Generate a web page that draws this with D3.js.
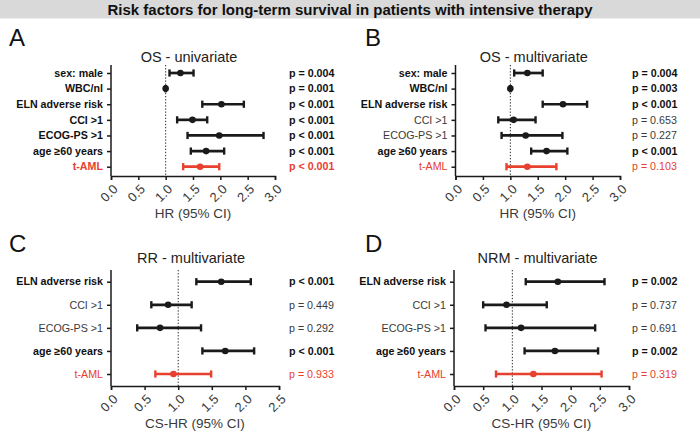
<!DOCTYPE html>
<html>
<head>
<meta charset="utf-8">
<script src="https://cdn.jsdelivr.net/npm/d3@7/dist/d3.min.js"></script>
<style>
  html, body { margin: 0; padding: 0; background: #fff; }
  svg { display: block; font-family: "Liberation Sans", Arial, Helvetica, sans-serif; }
</style>
</head>
<body>
<svg id="chart" width="700" height="434"></svg>
<script>
// ---------- DATA ----------
const chartTitle = "Risk factors for long-term survival in patients with intensive therapy";

const osCategories = ["sex: male", "WBC/nl", "ELN adverse risk", "CCI >1", "ECOG-PS >1", "age \u226560 years", "t-AML"];
const osUniHR   = [1.27, 1.00, 2.02, 1.49, 1.98, 1.74, 1.63];
const osUniLow  = [1.07, 0.995, 1.67, 1.21, 1.40, 1.46, 1.32];
const osUniHigh = [1.51, 1.005, 2.43, 1.76, 2.79, 2.07, 1.98];
const osUniP    = ["p = 0.004", "p = 0.001", "p < 0.001", "p < 0.001", "p < 0.001", "p < 0.001", "p < 0.001"];

const osMultiHR   = [1.31, 1.00, 1.96, 1.06, 1.28, 1.66, 1.31];
const osMultiLow  = [1.07, 0.995, 1.59, 0.78, 0.84, 1.38, 0.93];
const osMultiHigh = [1.59, 1.005, 2.40, 1.46, 1.95, 2.04, 1.84];
const osMultiP    = ["p = 0.004", "p = 0.003", "p < 0.001", "p = 0.653", "p = 0.227", "p < 0.001", "p = 0.103"];

const cmpCategories = ["ELN adverse risk", "CCI >1", "ECOG-PS >1", "age \u226560 years", "t-AML"];
const rrHR   = [1.64, 0.85, 0.73, 1.70, 0.93];
const rrLow  = [1.27, 0.60, 0.39, 1.36, 0.66];
const rrHigh = [2.08, 1.20, 1.34, 2.13, 1.49];
const rrP    = ["p < 0.001", "p = 0.449", "p = 0.292", "p < 0.001", "p = 0.933"];

const nrmHR   = [1.78, 0.90, 1.15, 1.73, 1.36];
const nrmLow  = [1.23, 0.50, 0.54, 1.21, 0.72];
const nrmHigh = [2.58, 1.59, 2.42, 2.47, 2.53];
const nrmP    = ["p = 0.002", "p = 0.737", "p = 0.691", "p = 0.002", "p = 0.319"];

const ticks30 = [0.0, 0.5, 1.0, 1.5, 2.0, 2.5, 3.0];
const ticks25 = [0.0, 0.5, 1.0, 1.5, 2.0, 2.5];

// ---------- LAYOUT ----------
const RED = "#e8402f";
const DARK = "#1a1a1a";
const GREY_TXT = "#3a3a3a";

const svg = d3.select("#chart");

svg.append("rect").attr("x", 0).attr("y", 0).attr("width", 700).attr("height", 18.5).attr("fill", "#d9d9d9");
svg.append("text").attr("x", 350).attr("y", 14.5).attr("text-anchor", "middle")
  .attr("font-size", 15).attr("font-weight", "bold").attr("fill", "#111").text(chartTitle);

function isSig(p) {
  if (p.indexOf("<") >= 0) return true;
  const v = parseFloat(p.replace(/[^0-9.]/g, ""));
  return v < 0.05;
}

const panels = [
  { letter: "A", sub: "OS - univariate", axisTitle: "HR (95% CI)", cats: osCategories,
    hr: osUniHR, lo: osUniLow, hi: osUniHigh, p: osUniP, ticks: ticks30,
    x0: 111, x1: 275, yTop: 65, yBot: 176, r0: 73, r1: 166.7, lx: 9, ly: 46, subY: 62, pX: 289 },
  { letter: "B", sub: "OS - multivariate", axisTitle: "HR (95% CI)", cats: osCategories,
    hr: osMultiHR, lo: osMultiLow, hi: osMultiHigh, p: osMultiP, ticks: ticks30,
    x0: 455.5, x1: 620, yTop: 65, yBot: 176, r0: 73, r1: 166.7, lx: 365, ly: 46, subY: 62, pX: 632 },
  { letter: "C", sub: "RR - multivariate", axisTitle: "CS-HR (95% CI)", cats: cmpCategories,
    hr: rrHR, lo: rrLow, hi: rrHigh, p: rrP, ticks: ticks25,
    x0: 111, x1: 279, yTop: 270, yBot: 386, r0: 281.7, r1: 374, lx: 9, ly: 252, subY: 263, pX: 289 },
  { letter: "D", sub: "NRM - multivariate", axisTitle: "CS-HR (95% CI)", cats: cmpCategories,
    hr: nrmHR, lo: nrmLow, hi: nrmHigh, p: nrmP, ticks: ticks30,
    x0: 454, x1: 629, yTop: 270, yBot: 386, r0: 281.7, r1: 374, lx: 365, ly: 252, subY: 263, pX: 632 }
];

panels.forEach(P => {
  const g = svg.append("g");
  const dmax = P.ticks[P.ticks.length - 1];
  const x = d3.scaleLinear().domain([0, dmax]).range([P.x0, P.x1]);
  const y = d3.scalePoint().domain(P.cats).range([P.r0, P.r1]);

  // panel letter
  g.append("text").attr("x", P.lx).attr("y", P.ly).attr("font-size", 24).attr("fill", "#111").text(P.letter);
  // subtitle
  g.append("text").attr("x", (P.x0 + P.x1) / 2 - 4).attr("y", P.subY).attr("text-anchor", "middle")
    .attr("font-size", 14.5).attr("fill", "#222").text(P.sub);

  // reference line at 1.0
  g.append("line").attr("x1", x(1)).attr("x2", x(1)).attr("y1", P.yTop).attr("y2", P.yBot)
    .attr("stroke", "#222").attr("stroke-width", 1).attr("stroke-dasharray", "1.3,1.8");

  // x axis
  const xAxis = d3.axisBottom(x).tickValues(P.ticks).tickSize(4).tickFormat(d3.format(".1f"));
  const gx = g.append("g").attr("transform", `translate(0,${P.yBot})`).call(xAxis);
  gx.select(".domain").attr("stroke", DARK).attr("stroke-width", 1.5);
  gx.selectAll(".tick line").attr("stroke", DARK).attr("stroke-width", 1.5);
  gx.selectAll(".tick text")
    .attr("font-size", 13).attr("fill", GREY_TXT)
    .attr("text-anchor", "end").attr("dy", null).attr("y", null)
    .attr("transform", "translate(7,14) rotate(-45)")
    .attr("font-family", "Liberation Sans, Arial, sans-serif");

  // y axis
  const yAxis = d3.axisLeft(y).tickSize(4).tickFormat("");
  const gy = g.append("g").attr("transform", `translate(${P.x0},0)`).call(yAxis);
  gy.select(".domain").attr("d", `M0,${P.yTop}V${P.yBot}`).attr("stroke", DARK).attr("stroke-width", 1.5);
  gy.selectAll(".tick line").attr("stroke", DARK).attr("stroke-width", 1.5);

  // category labels
  g.selectAll(".cat").data(P.cats).enter().append("text")
    .attr("x", P.x0 - 8).attr("y", d => y(d)).attr("dy", "0.35em").attr("text-anchor", "end")
    .attr("font-size", 10.7)
    .attr("font-weight", (d, i) => isSig(P.p[i]) ? "bold" : "normal")
    .attr("fill", (d, i) => d === "t-AML" ? RED : (isSig(P.p[i]) ? "#111" : GREY_TXT))
    .text(d => d);

  // p-values
  g.selectAll(".pv").data(P.p).enter().append("text")
    .attr("x", P.pX).attr("y", (d, i) => y(P.cats[i])).attr("dy", "0.35em")
    .attr("font-size", 10.7)
    .attr("font-weight", d => isSig(d) ? "bold" : "normal")
    .attr("fill", (d, i) => P.cats[i] === "t-AML" ? RED : (isSig(d) ? "#111" : GREY_TXT))
    .text(d => d);

  // error bars
  P.cats.forEach((c, i) => {
    const col = c === "t-AML" ? RED : DARK;
    const yy = y(c);
    g.append("line").attr("x1", x(P.lo[i])).attr("x2", x(P.hi[i])).attr("y1", yy).attr("y2", yy)
      .attr("stroke", col).attr("stroke-width", 2.7);
    [P.lo[i], P.hi[i]].forEach(v => {
      g.append("line").attr("x1", x(v)).attr("x2", x(v)).attr("y1", yy - 3.6).attr("y2", yy + 3.6)
        .attr("stroke", col).attr("stroke-width", 2.4);
    });
    g.append("circle").attr("cx", x(P.hr[i])).attr("cy", yy).attr("r", 3.3).attr("fill", col);
  });

  // axis title
  g.append("text").attr("x", (P.x0 + P.x1) / 2).attr("y", P.yBot + 42).attr("text-anchor", "middle")
    .attr("font-size", 13.5).attr("fill", GREY_TXT).text(P.axisTitle);
});
</script>
</body>
</html>
